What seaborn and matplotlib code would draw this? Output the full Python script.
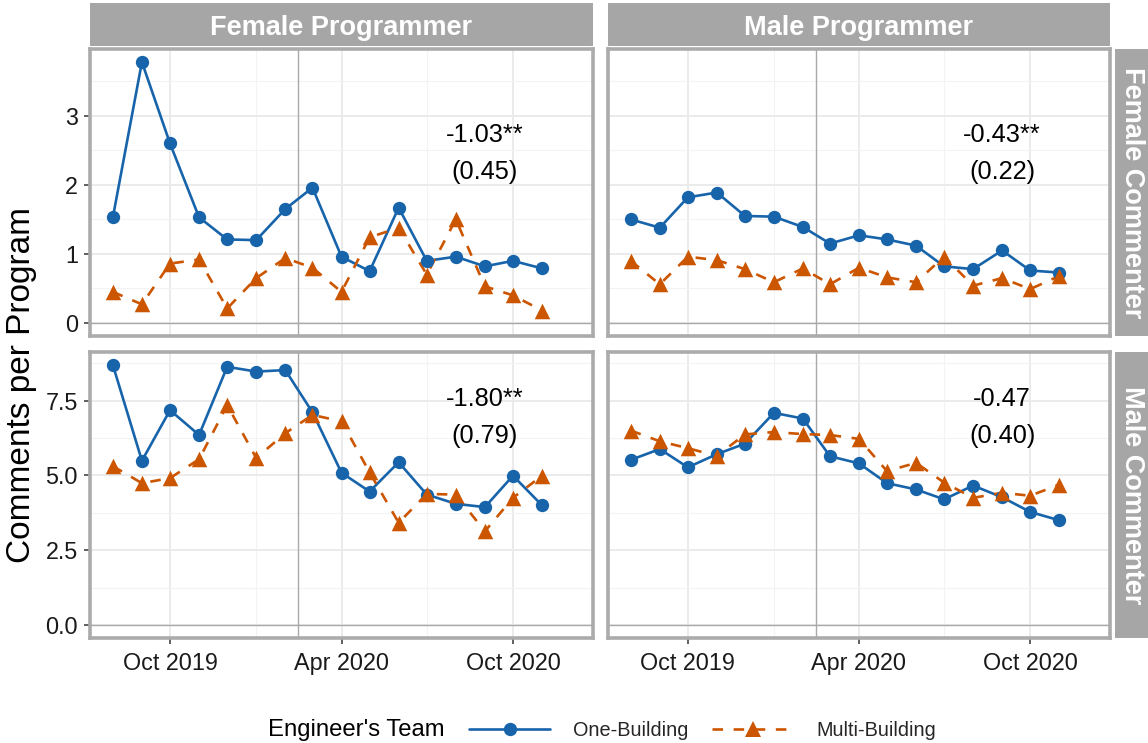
import numpy as np
import pandas as pd
import matplotlib
matplotlib.use("Agg")
import matplotlib.pyplot as plt
import matplotlib.dates as mdates
import matplotlib.ticker as mticker
import matplotlib.transforms as mtransforms
from matplotlib.lines import Line2D
import seaborn as sns

# ---------------- data ----------------
months = pd.date_range("2019-08-01", "2020-11-01", freq="MS")
x_span_end = pd.Timestamp("2020-12-01")
event_date = pd.Timestamp("2020-02-15")

programmers = ["Female Programmer", "Male Programmer"]
commenters = ["Female Commenter", "Male Commenter"]
teams = ["One-Building", "Multi-Building"]

# Female commenter row
ff_one = [1.53, 3.78, 2.60, 1.53, 1.21, 1.20, 1.65, 1.96, 0.96, 0.75, 1.67, 0.90, 0.96, 0.82, 0.90, 0.79]
ff_multi = [0.45, 0.27, 0.86, 0.92, 0.21, 0.65, 0.94, 0.80, 0.45, 1.24, 1.38, 0.70, 1.50, 0.53, 0.40, 0.18]
mf_one = [1.50, 1.38, 1.82, 1.89, 1.55, 1.54, 1.39, 1.15, 1.27, 1.21, 1.12, 0.82, 0.78, 1.05, 0.76, 0.73]
mf_multi = [0.90, 0.56, 0.96, 0.91, 0.78, 0.59, 0.79, 0.56, 0.80, 0.66, 0.59, 0.96, 0.54, 0.65, 0.49, 0.68]
# Male commenter row
fm_one = [8.69, 5.49, 7.18, 6.35, 8.63, 8.47, 8.52, 7.11, 5.09, 4.46, 5.44, 4.36, 4.05, 3.94, 4.99, 4.00]
fm_multi = [5.31, 4.74, 4.91, 5.54, 7.35, 5.58, 6.41, 7.02, 6.81, 5.10, 3.42, 4.38, 4.36, 3.13, 4.25, 4.99]
mm_one = [5.52, 5.88, 5.27, 5.71, 6.06, 7.09, 6.90, 5.64, 5.40, 4.74, 4.53, 4.20, 4.66, 4.27, 3.78, 3.50]
mm_multi = [6.50, 6.14, 5.91, 5.65, 6.37, 6.45, 6.38, 6.35, 6.22, 5.14, 5.42, 4.76, 4.25, 4.42, 4.32, 4.69]

# regression estimates shown in each panel (row-major: commenter x programmer)
effects = ["-1.03**", "-0.43**", "-1.80**", "-0.47"]
std_errs = ["(0.45)", "(0.22)", "(0.79)", "(0.40)"]

series = {
    ("Female Commenter", "Female Programmer"): (ff_one, ff_multi),
    ("Female Commenter", "Male Programmer"): (mf_one, mf_multi),
    ("Male Commenter", "Female Programmer"): (fm_one, fm_multi),
    ("Male Commenter", "Male Programmer"): (mm_one, mm_multi),
}

rows = []
for (com, prog), (one, multi) in series.items():
    for team, vals in zip(teams, (one, multi)):
        for m, v in zip(months, vals):
            rows.append({"month": m, "value": v, "team": team,
                         "commenter": com, "programmer": prog})
df = pd.DataFrame(rows)

# ---------------- style ----------------
sns.set_theme(style="white")
plt.rcParams["font.family"] = ["Liberation Sans", "DejaVu Sans"]

palette = {"One-Building": "#1764AB", "Multi-Building": "#CC5500"}
markers = {"One-Building": "o", "Multi-Building": "^"}
msizes = {"One-Building": 92, "Multi-Building": 125}
dashes = {"One-Building": "", "Multi-Building": (4, 4)}

W, H = 1148, 743
fig = plt.figure(figsize=(W / 100, H / 100), dpi=100)
fig.patch.set_facecolor("white")


def box(x0, y0, x1, y1):
    return [x0 / W, 1 - y1 / H, (x1 - x0) / W, (y1 - y0) / H]


col_px = [(90, 593), (608, 1110)]
row_px = [(49, 336), (352, 638)]
strip_color = "#A6A6A6"
border_color = "#ABABAB"

# x range: data span through Dec 2020 with 5% padding
span = (x_span_end - months[0]).days
xpad = pd.Timedelta(days=span * 0.05)
xlim = (months[0] - xpad, x_span_end + xpad)

row_fmt = ["%.0f", "%.1f"]
row_major = [1.0, 2.5]

for r, com in enumerate(commenters):
    row_max = df.loc[df.commenter == com, "value"].max()
    ypad = row_max * 0.05
    ylim = (0 - ypad, row_max + ypad)
    for c, prog in enumerate(programmers):
        x0, x1 = col_px[c]
        y0, y1 = row_px[r]
        ax = fig.add_axes(box(x0, y0, x1, y1))
        sub = df[(df.commenter == com) & (df.programmer == prog)]

        ax.axhline(0, color="#A9A9A9", lw=1.0, zorder=1.5)
        ax.axvline(event_date, color="#A9A9A9", lw=1.0, zorder=1.5)

        sns.lineplot(data=sub, x="month", y="value", hue="team", style="team",
                     hue_order=teams, style_order=teams, palette=palette,
                     dashes=dashes, linewidth=1.9, errorbar=None,
                     legend=False, ax=ax, zorder=2)
        for team in teams:
            sns.scatterplot(data=sub[sub.team == team], x="month", y="value",
                            color=palette[team], marker=markers[team],
                            s=msizes[team], linewidth=0, legend=False,
                            ax=ax, zorder=3)

        ax.set_xlim(*xlim)
        ax.set_ylim(*ylim)
        ax.set_xlabel("")
        ax.set_ylabel("")

        ax.xaxis.set_major_locator(mdates.MonthLocator(bymonth=[4, 10]))
        ax.xaxis.set_minor_locator(mdates.MonthLocator(bymonth=[1, 7]))
        ax.xaxis.set_major_formatter(mdates.DateFormatter("%b %Y"))
        ax.yaxis.set_major_locator(mticker.MultipleLocator(row_major[r]))
        ax.yaxis.set_minor_locator(mticker.MultipleLocator(row_major[r] / 2))
        ax.yaxis.set_major_formatter(mticker.FormatStrFormatter(row_fmt[r]))

        ax.grid(which="major", color="#EBEBEB", lw=1.4)
        ax.grid(which="minor", color="#F3F3F3", lw=0.8)
        ax.set_axisbelow(True)

        for sp in ax.spines.values():
            sp.set_visible(True)
            sp.set_color(border_color)
            sp.set_linewidth(2.6)

        ax.tick_params(which="minor", length=0)
        ax.tick_params(which="major", length=4.3, width=1.1, color="#333333",
                       labelsize=16.8, labelcolor="#1A1A1A", pad=4.5)
        ax.tick_params(axis="x", bottom=(r == 1), labelbottom=(r == 1), pad=5.5)
        ax.tick_params(axis="y", left=(c == 0), labelleft=(c == 0))

        k = r * 2 + c
        trans = mtransforms.blended_transform_factory(ax.transData, ax.transAxes)
        lab_x = pd.Timestamp("2020-09-01")
        ys = [(0.700, 0.571), (0.836, 0.706)][r]
        ax.text(lab_x, ys[0], effects[k], transform=trans, ha="center",
                va="center", fontsize=18.3, color="black")
        ax.text(lab_x, ys[1], std_errs[k], transform=trans, ha="center",
                va="center", fontsize=18.3, color="black")

# column strips
for c, prog in enumerate(programmers):
    x0, x1 = col_px[c]
    sax = fig.add_axes(box(x0, 3, x1, 46))
    sax.set_facecolor(strip_color)
    sax.set_xticks([])
    sax.set_yticks([])
    for sp in sax.spines.values():
        sp.set_visible(False)
    sax.text(0.5, 0.43, prog, ha="center", va="center", color="white",
             fontsize=19.5, fontweight="bold", transform=sax.transAxes)

# row strips
for r, com in enumerate(commenters):
    y0, y1 = row_px[r]
    sax = fig.add_axes(box(1115, y0, 1152, y1))
    sax.set_facecolor(strip_color)
    sax.set_xticks([])
    sax.set_yticks([])
    for sp in sax.spines.values():
        sp.set_visible(False)
    sax.text(0.45, 0.5, com, ha="center", va="center", color="white",
             fontsize=19.5, fontweight="bold", rotation=-90,
             transform=sax.transAxes)

# shared y label
fig.text(22 / W, 1 - 385 / H, "Comments per Program", rotation=90,
         ha="center", va="center", fontsize=24, color="black")

# legend
fig.text(268 / W, 1 - 730 / H, "Engineer's Team", ha="left", va="center",
         fontsize=17.2, color="black")
handles = [
    Line2D([], [], color=palette["One-Building"], lw=1.9, marker="o",
           markersize=9.6, markeredgewidth=0),
    Line2D([], [], color=palette["Multi-Building"], lw=1.9,
           linestyle=(0, (4, 4)), marker="^", markersize=11,
           markeredgewidth=0),
]
fig.legend(handles, teams, loc="center left",
           bbox_to_anchor=(469 / W, 1 - 730 / H), ncol=2, frameon=False,
           fontsize=14.3, handlelength=4.1, handletextpad=1.15,
           columnspacing=1.2, borderpad=0, borderaxespad=0)

fig.savefig("out.png", dpi=100, facecolor="white")
